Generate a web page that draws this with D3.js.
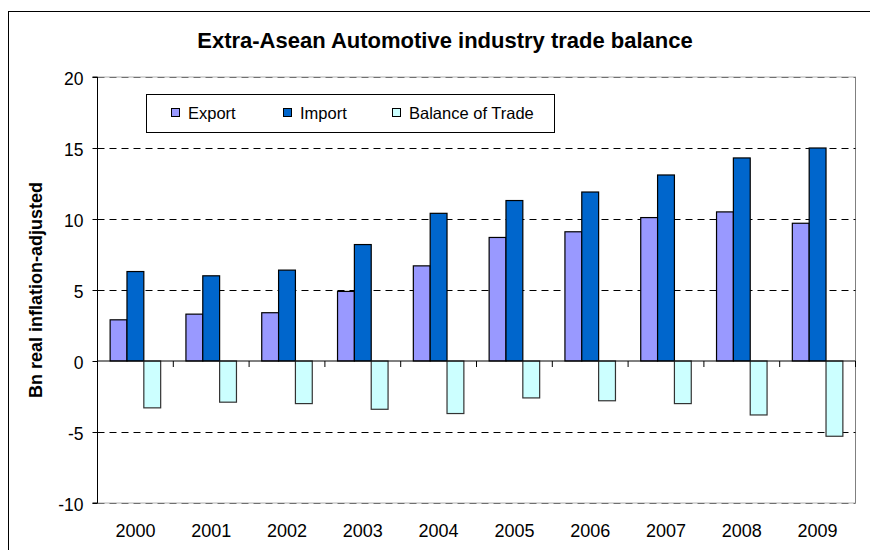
<!DOCTYPE html>
<html>
<head>
<meta charset="utf-8">
<script src="https://cdn.jsdelivr.net/npm/d3@7"></script>
<style>
  html, body { margin: 0; padding: 0; background: #fff; }
  svg { display: block; font-family: "Liberation Sans", Arial, sans-serif; }
</style>
</head>
<body>
<svg id="chart" width="870" height="550"></svg>
<script>
// Extra-ASEAN automotive trade, billions (real, inflation-adjusted)
const years = ["2000", "2001", "2002", "2003", "2004", "2005", "2006", "2007", "2008", "2009"];
const exportValues = [2.9, 3.3, 3.4, 4.9, 6.7, 8.7, 9.1, 10.1, 10.5, 9.7];
const importValues = [6.3, 6.0, 6.4, 8.2, 10.4, 11.3, 11.9, 13.1, 14.3, 15.0];
const balanceValues = [-3.3, -2.9, -3.0, -3.4, -3.7, -2.6, -2.8, -3.0, -3.8, -5.3];
const seriesNames = ["Export", "Import", "Balance of Trade"];
const yTicks = [-10, -5, 0, 5, 10, 15, 20];

const seriesValues = [exportValues, importValues, balanceValues];
const colors = ["#9999FF", "#0066CC", "#CCFFFF"];

const svg = d3.select("#chart");

// outer chart frame (runs off the right and bottom edges)
svg.append("rect")
  .attr("x", 8.5).attr("y", 11.5)
  .attr("width", 900).attr("height", 600)
  .attr("fill", "#fff").attr("stroke", "#000").attr("stroke-width", 1);

const plot = { left: 97.5, right: 855.5, top: 77, bottom: 503 };

const y = d3.scaleLinear().domain([-10, 20]).range([plot.bottom, plot.top]);
const x = d3.scaleBand().domain(years).range([plot.left, plot.right]).padding(0);

// three bars per year with a 150% gap between groups
const barW = x.bandwidth() / 4.5;
const x1 = d3.scaleBand().domain(seriesNames)
  .range([barW * 0.75, x.bandwidth() - barW * 0.75]).padding(0);

// plot area border
svg.append("rect")
  .attr("x", plot.left).attr("y", plot.top)
  .attr("width", plot.right - plot.left).attr("height", plot.bottom - plot.top)
  .attr("fill", "none").attr("stroke", "#b0b0b0").attr("stroke-width", 1);
svg.append("line")
  .attr("x1", plot.right).attr("x2", plot.right)
  .attr("y1", plot.top).attr("y2", plot.bottom)
  .attr("stroke", "#808080");

// dashed horizontal gridlines
svg.append("g")
  .selectAll("line")
  .data(yTicks.filter(d => d !== 0))
  .join("line")
  .attr("x1", plot.left).attr("x2", plot.right)
  .attr("y1", d => Math.round(y(d)) + 0.5).attr("y2", d => Math.round(y(d)) + 0.5)
  .attr("stroke", d => (d === 20 || d === -10) ? "#707070" : "#000")
  .attr("stroke-width", 1)
  .attr("stroke-dasharray", "7,5");

// bars
const groups = svg.append("g")
  .selectAll("g")
  .data(years)
  .join("g")
  .attr("transform", d => `translate(${x(d)},0)`);

groups.selectAll("rect")
  .data((d, i) => seriesNames.map((s, k) => ({ series: s, value: seriesValues[k][i], k })))
  .join("rect")
  .attr("x", d => x1(d.series))
  .attr("width", x1.bandwidth())
  .attr("y", d => y(Math.max(0, d.value)))
  .attr("height", d => Math.abs(y(d.value) - y(0)))
  .attr("fill", d => colors[d.k])
  .attr("stroke", d => d.k === 2 ? "#333" : "#000")
  .attr("stroke-width", 1.2);

// y axis (plain hyphen for negatives)
const yAxis = d3.axisLeft(y).tickValues(yTicks).tickSize(5).tickPadding(9)
  .tickFormat(d => String(d));
const yg = svg.append("g")
  .attr("transform", `translate(${plot.left},0)`)
  .call(yAxis);
yg.select(".domain").attr("stroke", "#000").attr("d", `M-5,${plot.top}H0V${plot.bottom}H-5`);
yg.selectAll(".tick line").attr("stroke", "#000");
yg.selectAll(".tick text")
  .attr("font-size", 17.5).attr("fill", "#000")
  .attr("font-family", "'Liberation Sans', Arial, sans-serif")
  .attr("dy", "0.42em");

// x axis drawn on the zero line, tick marks between categories
const xg = svg.append("g")
  .attr("transform", `translate(0,${y(0)})`);
xg.append("line")
  .attr("x1", plot.left).attr("x2", plot.right)
  .attr("y1", 0).attr("y2", 0)
  .attr("stroke", "#000").attr("stroke-width", 1);
xg.selectAll("line.tk")
  .data(years.slice(1).map(d => x(d)).concat([plot.right]))
  .join("line")
  .attr("class", "tk")
  .attr("x1", d => d).attr("x2", d => d)
  .attr("y1", 0).attr("y2", 6)
  .attr("stroke", "#000");

// year labels below the plot area
const xLabels = d3.axisBottom(x).tickSize(0).tickPadding(0);
const xl = svg.append("g")
  .attr("transform", `translate(0,${plot.bottom})`)
  .call(xLabels);
xl.select(".domain").remove();
xl.selectAll(".tick text")
  .attr("font-size", 18).attr("fill", "#000")
  .attr("font-family", "'Liberation Sans', Arial, sans-serif")
  .attr("y", 33.5).attr("dy", 0);

// title
svg.append("text")
  .attr("x", 445).attr("y", 48)
  .attr("text-anchor", "middle")
  .attr("font-size", 22).attr("font-weight", "bold")
  .text("Extra-Asean Automotive industry trade balance");

// y axis title
svg.append("text")
  .attr("transform", `translate(42,${(plot.top + plot.bottom) / 2}) rotate(-90)`)
  .attr("text-anchor", "middle")
  .attr("font-size", 18).attr("font-weight", "bold")
  .text("Bn real inflation-adjusted");

// legend
const legend = svg.append("g");
legend.append("rect")
  .attr("x", 146.5).attr("y", 94.5)
  .attr("width", 408).attr("height", 38)
  .attr("fill", "#fff").attr("stroke", "#000");
const legendX = [171, 283, 392];
const items = legend.selectAll("g.item")
  .data(seriesNames)
  .join("g")
  .attr("class", "item")
  .attr("transform", (d, i) => `translate(${legendX[i]},0)`);
items.append("rect")
  .attr("x", 0.5).attr("y", 108.5)
  .attr("width", 8).attr("height", 8)
  .attr("fill", (d, i) => colors[i]).attr("stroke", "#000");
items.append("text")
  .attr("x", 17).attr("y", 118.5)
  .attr("font-size", 16.5)
  .text(d => d);
</script>
</body>
</html>
